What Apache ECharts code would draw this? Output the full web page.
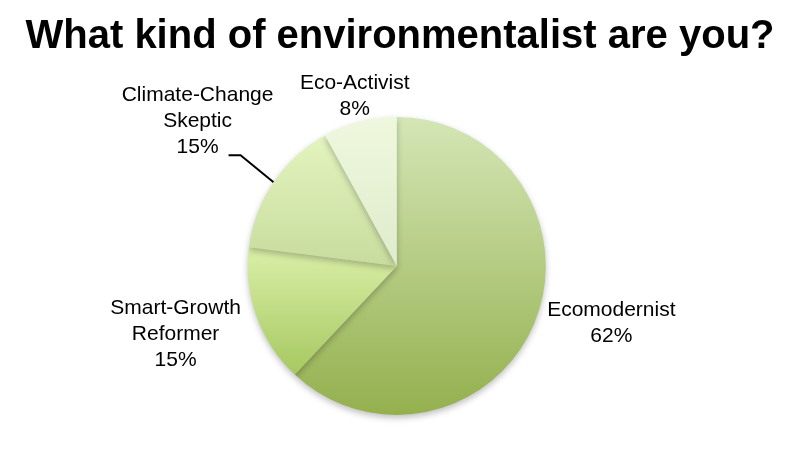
<!DOCTYPE html>
<html>
<head>
<meta charset="utf-8">
<script src="https://cdn.jsdelivr.net/npm/echarts@6/dist/echarts.min.js"></script>
<style>
html,body{margin:0;padding:0;background:#fff;}
#c{width:800px;height:450px;}
</style>
</head>
<body>
<div id="c"></div>
<script>
const titleText = 'What kind of environmentalist are you?';
const categories = ['Ecomodernist', 'Smart-Growth\nReformer', 'Climate-Change\nSkeptic', 'Eco-Activist'];
const values = [62, 15, 15, 8];
const topColors = ['#d4e6b6', '#daefa8', '#e3f4be', '#eff8de'];
const bottomColors = ['#94b04e', '#a6c860', '#c8dc9e', '#dfebcb'];
const showLeader = [false, false, true, false];
const labelOffsets = [[76, 2], [-81, 18], [-76, -61], [-5, -25]];

const chart = echarts.init(document.getElementById('c'), null, {renderer: 'canvas'});
const data = categories.map((name, i) => ({
  name: name,
  value: values[i],
  itemStyle: {
    color: new echarts.graphic.LinearGradient(0, 0, 0, 1, [
      {offset: 0, color: topColors[i]},
      {offset: 1, color: bottomColors[i]}
    ])
  },
  labelLine: {lineStyle: {opacity: showLeader[i] ? 1 : 0}}
}));

chart.setOption({
  backgroundColor: '#ffffff',
  animation: false,
  title: {
    text: titleText,
    left: 'center',
    top: 12,
    textStyle: {
      fontFamily: '"Liberation Sans", Arial, sans-serif',
      fontWeight: 'bold',
      fontSize: 40,
      color: '#000'
    }
  },
  series: [{
    type: 'pie',
    center: ['49.6%', '59.1%'],
    radius: 149,
    startAngle: 90,
    clockwise: true,
    data: data,
    itemStyle: {
      shadowBlur: 6,
      shadowOffsetY: 3,
      shadowColor: 'rgba(0,0,0,0.25)'
    },
    label: {
      show: true,
      position: 'outside',
      formatter: '{b}\n{d}%',
      fontFamily: '"Liberation Sans", Arial, sans-serif',
      fontSize: 21,
      lineHeight: 26,
      color: '#000',
      align: 'center'
    },
    labelLine: {
      show: true,
      length: 10,
      length2: 10,
      lineStyle: {color: '#000', width: 2}
    },
    labelLayout: function (p) {
      const i = p.dataIndex;
      const e = p.labelLinePoints[0];
      const off = labelOffsets[i];
      const res = {
        x: e[0] + off[0],
        y: e[1] + off[1],
        align: 'center',
        verticalAlign: 'middle'
      };
      if (showLeader[i]) {
        res.labelLinePoints = [
          [e[0], e[1]],
          [e[0] - 33, e[1] - 27],
          [e[0] - 45, e[1] - 27]
        ];
      }
      return res;
    }
  }]
});
</script>
</body>
</html>
